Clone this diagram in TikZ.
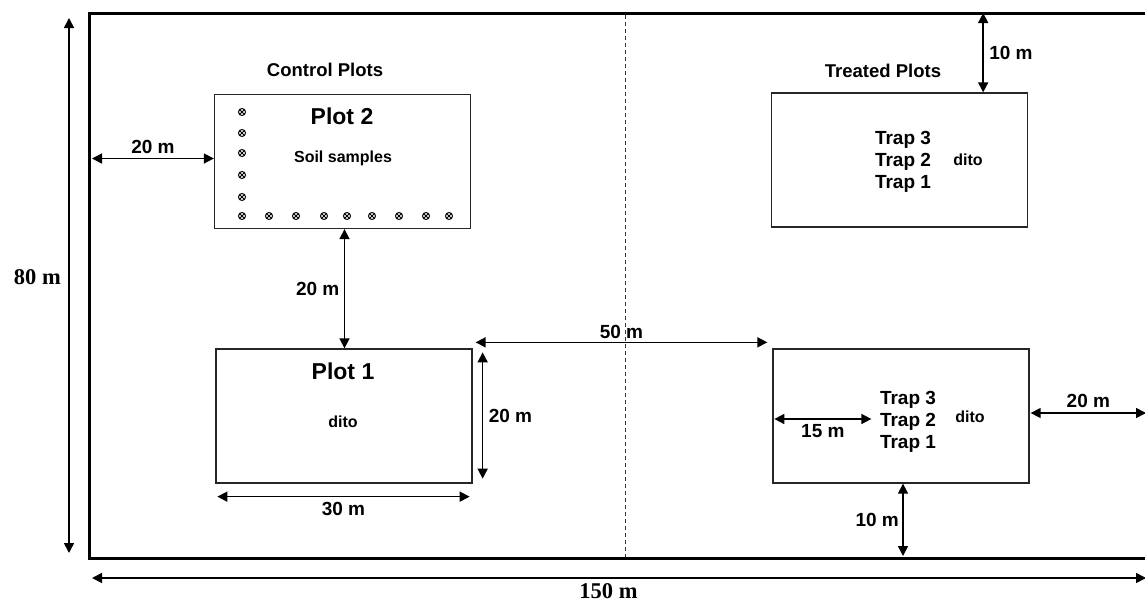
\documentclass[tikz,border=0pt]{standalone}
\usepackage{fontspec}
\setmainfont{Liberation Sans}
\newfontfamily\serifbold{Liberation Serif}
\usetikzlibrary{arrows.meta, positioning, calc}

\tikzset{
  plot/.style={rectangle, draw=black!85, line width=1.3pt, minimum width=256pt, minimum height=134pt, inner sep=0pt},
  grouplbl/.style={font=\fontsize{18.5}{22}\selectfont\bfseries},
  plotttl/.style={font=\fontsize{23}{26}\selectfont\bfseries},
  smalllbl/.style={font=\fontsize{16}{19}\selectfont\bfseries},
  traplbl/.style={font=\fontsize{19}{22}\selectfont\bfseries, align=center, inner sep=0pt},
  dimlbl/.style={font=\fontsize{19}{22}\selectfont\bfseries},
  bigdim/.style={font=\serifbold\fontsize{22.5}{26}\selectfont\bfseries},
  dim/.style={arrows={Triangle[length=10pt,width=10pt]-Triangle[length=10pt,width=10pt]}, line width=1.6pt},
  fieldline/.style={line width=3pt},
  divider/.style={line width=0.7pt, black!80, dash pattern=on 4pt off 3pt},
  soil/.style={circle, draw, line width=1pt, minimum size=7pt, inner sep=0pt,
    path picture={\draw[line width=0.8pt]
      (path picture bounding box.north west) -- (path picture bounding box.south east)
      (path picture bounding box.north east) -- (path picture bounding box.south west);}}
}

\begin{document}
\begin{tikzpicture}[x=1pt, y=-1pt]
\useasboundingbox (0,0) rectangle (1145,605);

% field
\coordinate (fNW) at (89,13);
\coordinate (fSE) at (1146,558);
\draw[fieldline] (fNW) rectangle (fSE);
\coordinate (dTop) at (625,15);
\coordinate (dBot) at (625,557);
\draw[divider] (dTop) -- (dBot);

% plots
\node[plot] (plotII) at (342.5,161.5) {};
\node[plot] (plotI)  at (344,416)     {};
\node[plot] (trtA)   at (899.5,160)   {};
\node[plot] (trtB)   at (901,416)     {};

\node[grouplbl] (ctrl) at (325,70) {Control Plots};
\node[grouplbl] (trt)  at (883,71) {Treated Plots};

\node[plotttl] (plotIIttl) at (342,116) {Plot 2};
\node[smalllbl] (soiltxt) at (343,158) {Soil samples};
\node[plotttl] (plotIttl) at (343,371) {Plot 1};
\node[smalllbl] (ditoI) at (343,422) {dito};

\node[traplbl] (trapsA) at (903,162) {Trap 3\\Trap 2\\Trap 1};
\node[smalllbl] (ditoA) at (968,160) {dito};
\node[traplbl] (trapsB) at (908,422) {Trap 3\\Trap 2\\Trap 1};
\node[smalllbl] (ditoB) at (970,417) {dito};

% soil sample points
\foreach \y [count=\i] in {112,133,153,175,197}
  \node[soil] (sv\i) at (242,\y) {};
\foreach \x [count=\i] in {242,269,296,324,347,372,399,426,449}
  \node[soil] (sh\i) at (\x,216) {};

% dimensions
\draw[dim] ($(fNW)+(-20,5)$) -- ($(fNW |- fSE)+(-20,-5)$)
  node[bigdim, pos=0.485, left=4pt] {80 m};
\draw[dim] ($(fNW |- fSE)+(3,20)$) -- ($(fSE)+(0,20)$)
  node[bigdim, pos=0.49, below=1pt] {150 m};
\draw[dim] ($(fNW |- plotII.west)+(3,-3)$) -- ($(plotII.west)+(0,-3)$)
  node[dimlbl, midway, above=1pt] {20 m};
\draw[dim] ($(plotII.south)+(2,0)$) -- ($(plotII.south |- plotI.north)+(2,0)$)
  node[dimlbl, midway, left=1pt] {20 m};
\draw[dim] ($(plotI.south west)+(2,13)$) -- ($(plotI.south east)+(-3,13)$)
  node[dimlbl, midway, below=1pt] {30 m};
\draw[dim] ($(plotI.north east)+(10,4)$) -- ($(plotI.south east)+(10,-5)$)
  node[dimlbl, midway, right=2pt] {20 m};
\draw[dim] ($(plotI.north east)+(3,-6)$) -- ($(trtB.north west)+(-5,-6)$)
  node[dimlbl, midway, above=0pt] {50 m};
\draw[dim] ($(fNW -| trtA.north east)+(-45,0)$) -- ($(trtA.north east)+(-45,0)$)
  node[dimlbl, midway, right=2pt] {10 m};
\draw[dim] ($(trtB.west)+(2,3)$) -- ($(trtB.west)+(99,3)$)
  node[dimlbl, midway, below=1pt] {15 m};
\draw[dim] ($(trtB.east)+(1,-3)$) -- ($(fSE |- trtB.east)+(0,-3)$)
  node[dimlbl, midway, above=1pt] {20 m};
\draw[dim] ($(trtB.south)+(2,0)$) -- ($(trtB.south |- fSE)+(2,-2)$)
  node[dimlbl, midway, left=0pt] {10 m};
\end{tikzpicture}
\end{document}
